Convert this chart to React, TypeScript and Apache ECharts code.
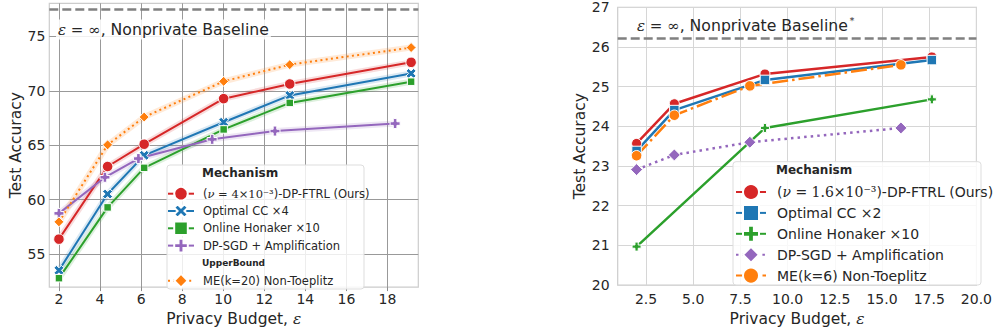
import React, { useEffect, useRef } from "react";
import * as echarts from "echarts";

// ---------- Left panel data ----------
const leftEpsMain = [2.0, 4.37, 6.15, 10.02, 13.24, 19.15];
const leftEpsSgd = [2.0, 4.24, 5.87, 9.46, 12.52, 18.37];
const leftFtrl = [56.36, 63.04, 65.09, 69.28, 70.63, 72.62];
const leftCC = [53.49, 60.51, 64.07, 67.11, 69.58, 71.6];
const leftHonaker = [52.77, 59.28, 62.92, 66.45, 68.89, 70.84];
const leftSgd = [58.73, 62.05, 63.77, 65.54, 66.3, 66.99];
const leftME = [57.95, 65.03, 67.59, 70.87, 72.41, 73.98];
const leftBaseline = 77.5;
const leftXTicks = [2, 4, 6, 8, 10, 12, 14, 16, 18];
const leftYTicks = [55, 60, 65, 70, 75];

// ---------- Right panel data ----------
const rightEpsA = [2.0, 4.0, 8.8, 17.64];
const rightEpsHon = [2.0, 8.8, 17.64];
const rightEpsB = [2.0, 4.0, 8.0, 16.0];
const rightFtrl = [23.57, 24.57, 25.32, 25.75];
const rightCC = [23.38, 24.41, 25.17, 25.67];
const rightHonaker = [20.97, 23.96, 24.68];
const rightSgd = [22.91, 23.28, 23.6, 23.96];
const rightME = [23.26, 24.28, 25.02, 25.55];
const rightBaseline = 26.23;
const rightXTicks = [2.5, 5, 7.5, 10, 12.5, 15, 17.5, 20];

// ---------- Names ----------
const L_FTRL = "(ν=4×10⁻³)-DP-FTRL (Ours)";
const L_CC = "Optimal CC ×4";
const L_HON = "Online Honaker ×10";
const L_SGD = "DP-SGD + Amplification";
const L_ME = "ME(k=20) Non-Toeplitz";
const R_FTRL = "(ν=1.6×10⁻³)-DP-FTRL (Ours)";
const R_CC = "Optimal CC ×2";
const R_HON = "Online Honaker ×10 ";
const R_SGD = "DP-SGD + Amplification ";
const R_ME = "ME(k=6) Non-Toeplitz";

const RED = "#d62728";
const BLUE = "#1f77b4";
const GREEN = "#2ca02c";
const PURPLE = "#9467bd";
const ORANGE = "#ff7f0e";
const TXT = "#262626";

const X_SYM = "path://M2.5,0 L5,2.5 L7.5,0 L10,2.5 L7.5,5 L10,7.5 L7.5,10 L5,7.5 L2.5,10 L0,7.5 L2.5,5 L0,2.5 Z";
const P_SYM = "path://M3.2,0 H6.8 V3.2 H10 V6.8 H6.8 V10 H3.2 V6.8 H0 V3.2 H3.2 Z";

const zip = (xs: number[], ys: number[]) => xs.map((x, i) => [x, ys[i]]);

function mainSeries(
  name: string, idx: number, xs: number[], ys: number[], color: string,
  symbol: string, size: number, width: number, dash: any
) {
  return {
    name,
    type: "line",
    xAxisIndex: idx,
    yAxisIndex: idx,
    data: zip(xs, ys),
    symbol,
    symbolSize: size,
    showSymbol: true,
    lineStyle: { color, width, type: dash },
    itemStyle: { color, borderColor: "#ffffff", borderWidth: 1 },
    emphasis: { disabled: true },
    z: 3,
  };
}

function bandSeries(xs: number[], ys: number[], color: string, key: string) {
  return {
    name: "band-" + key,
    type: "line",
    xAxisIndex: 0,
    yAxisIndex: 0,
    data: zip(xs, ys),
    symbol: "none",
    silent: true,
    lineStyle: { color, width: 6, opacity: 0.16 },
    emphasis: { disabled: true },
    z: 2,
  };
}

export default function App() {
  const ref = useRef<HTMLDivElement>(null);
  useEffect(() => {
    if (!ref.current) return;
    const chart = echarts.init(ref.current, null, { renderer: "svg" });

    const labelRich = (fs: number) => ({
      t: { fontFamily: "DejaVu Sans", fontSize: fs, color: TXT },
      mi: { fontFamily: "DejaVu Serif", fontStyle: "italic", fontSize: fs, color: TXT },
      m: { fontFamily: "DejaVu Serif", fontSize: fs, color: TXT },
    });

    const legendFmt = (name: string) => {
      if (name === L_FTRL) return "{t|(}{mi|ν}{m| = 4×10⁻³}{t|)-DP-FTRL (Ours)}";
      if (name === R_FTRL) return "{t|(}{mi|ν}{m| = 1.6×10⁻³}{t|)-DP-FTRL (Ours)}";
      return "{t|" + name.trim() + "}";
    };

    const axisName = "{t|Privacy Budget, }{mi|ε}";

    const option: any = {
      animation: false,
      textStyle: { fontFamily: "DejaVu Sans" },
      grid: [
        { left: 49.3, top: 3.3, width: 369, height: 288.4, show: true, borderColor: "#cccccc", borderWidth: 1.2, containLabel: false },
        { left: 617.7, top: 7.3, width: 362.3, height: 283.4, show: true, borderColor: "#cccccc", borderWidth: 1.2, containLabel: false },
      ],
      xAxis: [
        {
          gridIndex: 0, type: "value", min: 1.53, max: 19.5,
          axisLine: { show: false },
          axisTick: { show: true, length: 4, lineStyle: { color: "#8c8c8c" }, customValues: leftXTicks },
          axisLabel: { customValues: leftXTicks, fontSize: 14, color: TXT, margin: 5 },
          splitLine: { show: true, lineStyle: { color: "#999999", width: 1 } },
          name: axisName, nameLocation: "middle", nameGap: 18,
          nameTextStyle: { fontSize: 15.5, color: TXT, rich: labelRich(15.5) },
        },
        {
          gridIndex: 1, type: "value", min: 1, max: 20,
          axisLine: { show: false },
          axisTick: { show: false, customValues: rightXTicks },
          axisLabel: { customValues: rightXTicks, fontSize: 14, color: TXT, margin: 7, formatter: (v: number) => v.toFixed(1) },
          splitLine: { show: true, lineStyle: { color: "#d6d6d6", width: 1 } },
          name: axisName, nameLocation: "middle", nameGap: 18,
          nameTextStyle: { fontSize: 15.5, color: TXT, rich: labelRich(15.5) },
        },
      ],
      yAxis: [
        {
          gridIndex: 0, type: "value", min: 51.95, max: 78.05,
          axisLine: { show: false },
          axisTick: { show: false, customValues: leftYTicks },
          axisLabel: { customValues: leftYTicks, fontSize: 14, color: TXT, margin: 4 },
          splitLine: { show: true, lineStyle: { color: "#999999", width: 1 } },
          name: "Test Accuracy", nameLocation: "middle", nameGap: 25,
          nameTextStyle: { fontSize: 15.5, color: TXT },
        },
        {
          gridIndex: 1, type: "value", min: 20, max: 27, interval: 1,
          axisLine: { show: false },
          axisTick: { show: false },
          axisLabel: { fontSize: 14, color: TXT, margin: 8 },
          splitLine: { show: true, lineStyle: { color: "#d6d6d6", width: 1 } },
          name: "Test Accuracy", nameLocation: "middle", nameGap: 25,
          nameTextStyle: { fontSize: 15.5, color: TXT },
        },
      ],
      legend: [
        {
          data: [L_FTRL, L_CC, L_HON, L_SGD],
          orient: "vertical", left: 167, top: 185.9, padding: 0,
          itemWidth: 26, itemHeight: 17, itemGap: 1.7, z: 12,
          selectedMode: false,
          formatter: legendFmt,
          textStyle: { fontSize: 11.5, lineHeight: 14, color: TXT, padding: [0, 0, 0, 4], rich: labelRich(11.5) },
        },
        {
          data: [L_ME],
          orient: "vertical", left: 167, top: 272.9, padding: 0,
          itemWidth: 26, itemHeight: 17, itemGap: 1.7, z: 12,
          selectedMode: false,
          formatter: legendFmt,
          textStyle: { fontSize: 11.5, lineHeight: 14, color: TXT, padding: [0, 0, 0, 4], rich: labelRich(11.5) },
        },
        {
          data: [R_FTRL, R_CC, R_HON, R_SGD, R_ME],
          orient: "vertical", left: 735, top: 183, padding: 0,
          itemWidth: 30, itemHeight: 20, itemGap: 2.9, z: 12,
          selectedMode: false,
          formatter: legendFmt,
          textStyle: { fontSize: 14, lineHeight: 17, color: TXT, padding: [0, 0, 0, 6], rich: labelRich(14) },
        },
      ],
      graphic: [
        {
          type: "rect", z: 10, silent: true,
          shape: { x: 167, y: 165, width: 197, height: 124, r: 3 },
          style: { fill: "rgba(255,255,255,0.82)", stroke: "#dddddd", lineWidth: 1 },
        },
        {
          type: "text", z: 11, silent: true, x: 202, y: 173,
          style: { text: "Mechanism", fontFamily: "DejaVu Sans", fontWeight: "bold", fontSize: 12, fill: TXT, verticalAlign: "middle" },
        },
        {
          type: "text", z: 11, silent: true, x: 202, y: 263,
          style: { text: "UpperBound", fontFamily: "DejaVu Sans", fontWeight: "bold", fontSize: 9, fill: TXT, verticalAlign: "middle" },
        },
        {
          type: "rect", z: 10, silent: true,
          shape: { x: 733, y: 161.7, width: 248, height: 123.3, r: 3 },
          style: { fill: "rgba(255,255,255,0.82)", stroke: "#dddddd", lineWidth: 1 },
        },
        {
          type: "text", z: 11, silent: true, x: 776, y: 169.7,
          style: { text: "Mechanism", fontFamily: "DejaVu Sans", fontWeight: "bold", fontSize: 12, fill: TXT, verticalAlign: "middle" },
        },
        {
          type: "text", z: 11, silent: true, x: 56, y: 29.5,
          style: {
            text: "{m|ε = ∞}{t|, Nonprivate Baseline}",
            verticalAlign: "middle",
            backgroundColor: "rgba(255,255,255,0.85)",
            padding: [2, 2, 2, 2],
            rich: {
              m: { fontFamily: "DejaVu Serif", fontStyle: "italic", fontSize: 15, fill: TXT },
              t: { fontFamily: "DejaVu Sans", fontSize: 15.7, fill: TXT },
            },
          },
        },
        {
          type: "text", z: 11, silent: true, x: 637, y: 25.7,
          style: {
            text: "{m|ε = ∞}{t|, Nonprivate Baseline}{s|*}",
            verticalAlign: "middle",
            rich: {
              m: { fontFamily: "DejaVu Serif", fontStyle: "italic", fontSize: 15, fill: TXT },
              t: { fontFamily: "DejaVu Sans", fontSize: 15.7, fill: TXT },
              s: { fontFamily: "DejaVu Serif", fontSize: 9, fill: TXT, padding: [0, 0, 9, 2] },
            },
          },
        },
      ],
      series: [
        bandSeries(leftEpsMain, leftFtrl, RED, "r"),
        bandSeries(leftEpsMain, leftCC, BLUE, "b"),
        bandSeries(leftEpsMain, leftHonaker, GREEN, "g"),
        bandSeries(leftEpsSgd, leftSgd, PURPLE, "p"),
        bandSeries(leftEpsMain, leftME, ORANGE, "o"),
        {
          ...mainSeries(L_FTRL, 0, leftEpsMain, leftFtrl, RED, "circle", 10.5, 2, "solid"),
          markLine: {
            silent: true, symbol: "none", label: { show: false },
            lineStyle: { color: "#808080", width: 2.5, type: [9, 4] },
            data: [{ yAxis: leftBaseline }],
          },
        },
        mainSeries(L_CC, 0, leftEpsMain, leftCC, BLUE, X_SYM, 10, 2, "solid"),
        mainSeries(L_HON, 0, leftEpsMain, leftHonaker, GREEN, "rect", 7.5, 2, "solid"),
        mainSeries(L_SGD, 0, leftEpsSgd, leftSgd, PURPLE, P_SYM, 10, 2, "solid"),
        mainSeries(L_ME, 0, leftEpsMain, leftME, ORANGE, "diamond", 10, 2, [2, 3.3]),
        {
          ...mainSeries(R_FTRL, 1, rightEpsA, rightFtrl, RED, "circle", 10, 2.5, "solid"),
          markLine: {
            silent: true, symbol: "none", label: { show: false },
            lineStyle: { color: "#808080", width: 2.5, type: [9, 4] },
            data: [{ yAxis: rightBaseline }],
          },
        },
        mainSeries(R_CC, 1, rightEpsA, rightCC, BLUE, "rect", 9.5, 2.5, "solid"),
        mainSeries(R_HON, 1, rightEpsHon, rightHonaker, GREEN, P_SYM, 9, 2.5, "solid"),
        mainSeries(R_SGD, 1, rightEpsB, rightSgd, PURPLE, "diamond", 12, 2.5, [2.5, 4.1]),
        mainSeries(R_ME, 1, rightEpsB, rightME, ORANGE, "circle", 10.5, 2.5, [16, 4, 2.5, 4]),
      ],
    };

    chart.setOption(option);
    return () => chart.dispose();
  }, []);

  return (
    <div
      ref={ref}
      style={{ position: "absolute", left: 0, top: 0, width: 995, height: 332, background: "#ffffff" }}
    />
  );
}
